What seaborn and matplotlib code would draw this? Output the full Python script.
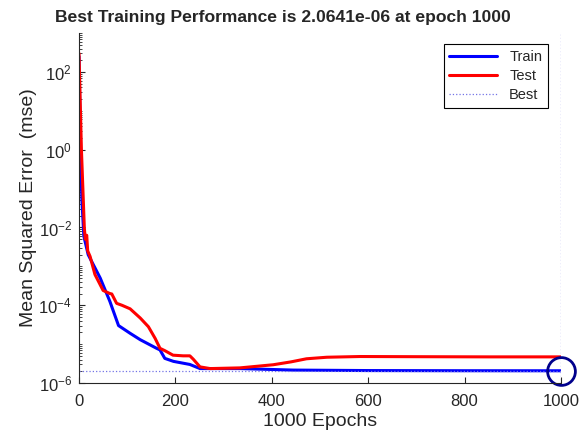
import numpy as np
import pandas as pd
import matplotlib
matplotlib.use("Agg")
from matplotlib import pyplot as plt
from matplotlib import ticker
import seaborn as sns

# training record (epoch, mean squared error)
train_epochs = [0, 3, 6, 10, 19, 44, 64, 82, 106, 127, 161, 168, 178, 196, 230, 251, 334, 444, 600, 800, 1000]
train_mse = [2.5e2, 1.0e0, 5.0e-2, 6.0e-3, 2.0e-3, 5.0e-4, 1.26e-4, 3.0e-5, 1.9e-5, 1.3e-5, 7.8e-6, 7.1e-6,
             4.3e-6, 3.6e-6, 3.0e-6, 2.35e-6, 2.35e-6, 2.15e-6, 2.09e-6, 2.07e-6, 2.0641e-6]

test_epochs = [0, 5, 8, 11, 13, 16, 18, 23, 33, 50, 64, 68, 78, 89, 106, 127, 144, 158, 168, 178, 195,
               216, 230, 237, 251, 272, 334, 403, 440, 472, 514, 583, 700, 850, 1000]
test_mse = [3.0e2, 1.0e0, 1.0e-1, 1.0e-2, 5.0e-3, 6.3e-3, 2.5e-3, 1.8e-3, 6.2e-4, 2.4e-4, 2.0e-4, 1.95e-4,
            1.12e-4, 1.0e-4, 8.1e-5, 4.7e-5, 2.8e-5, 1.4e-5, 7.8e-6, 6.8e-6, 5.2e-6,
            5.0e-6, 5.0e-6, 4.1e-6, 2.6e-6, 2.35e-6, 2.45e-6, 2.95e-6, 3.5e-6, 4.2e-6, 4.6e-6, 4.8e-6, 4.75e-6, 4.7e-6, 4.7e-6]

best_epoch = 1000
best_mse = 2.0641e-06

sns.set_style("ticks")
plt.rcParams["font.family"] = ["Liberation Sans", "DejaVu Sans"]
plt.rcParams["mathtext.default"] = "regular"
plt.rcParams["xtick.direction"] = "in"
plt.rcParams["ytick.direction"] = "in"

train = pd.DataFrame({"Epoch": train_epochs, "MSE": train_mse})
test = pd.DataFrame({"Epoch": test_epochs, "MSE": test_mse})

fig = plt.figure(figsize=(5.87, 4.41), dpi=100)
ax = fig.add_axes([0.1346, 0.1315, 0.8211, 0.7935])

sns.lineplot(data=train, x="Epoch", y="MSE", color=(0, 0, 1), lw=2.2, label="Train", ax=ax)
sns.lineplot(data=test, x="Epoch", y="MSE", color=(1, 0, 0), lw=2.2, label="Test", ax=ax)

best_col = (0.45, 0.45, 0.9)
ax.plot([0, best_epoch], [best_mse, best_mse], ls=":", lw=0.9, color=best_col, label="Best")
ax.plot([best_epoch, best_epoch], [1e-6, 1e3], ls=":", lw=0.9, color=best_col)
ax.plot([best_epoch], [best_mse], "o", ms=20, mfc="none", mec=(0, 0, 0.55), mew=2, clip_on=False)

ax.set_yscale("log")
ax.set_xlim(0, 1000)
ax.set_ylim(1e-6, 1e3)
ax.set_xticks([0, 200, 400, 600, 800, 1000])
ax.yaxis.set_major_locator(ticker.FixedLocator([1e-6, 1e-4, 1e-2, 1e0, 1e2]))
ax.yaxis.set_major_formatter(ticker.FuncFormatter(
    lambda v, p: r"$10^{\mathregular{%d}}$" % round(np.log10(v))))
ax.yaxis.set_minor_locator(ticker.LogLocator(base=10, subs=np.arange(1, 10), numticks=30))
ax.yaxis.set_minor_formatter(ticker.NullFormatter())
ax.tick_params(axis="both", which="major", labelsize=12, colors=(0.15, 0.15, 0.15), length=4)
ax.tick_params(axis="x", which="major", pad=8)
ax.tick_params(axis="y", which="major", pad=5)
ax.tick_params(axis="y", which="minor", length=2)

ax.set_xlabel("1000 Epochs", fontsize=14, color=(0.15, 0.15, 0.15), labelpad=3)
ax.set_ylabel("Mean Squared Error  (mse)", fontsize=14, color=(0.15, 0.15, 0.15), labelpad=1)
ax.set_title("Best Training Performance is 2.0641e-06 at epoch 1000", fontsize=12.6, fontweight="bold",
             x=0.423, pad=8)

for s in ["left", "bottom"]:
    ax.spines[s].set_color((0.15, 0.15, 0.15))
sns.despine(ax=ax)

leg = ax.legend(loc="upper right", bbox_to_anchor=(0.973, 0.969), fontsize=10.5, handlelength=3.3,
                fancybox=False, framealpha=1, edgecolor="black", borderaxespad=0, labelspacing=0.35)
leg.get_frame().set_linewidth(0.8)

fig.savefig("out.png", dpi=100)
